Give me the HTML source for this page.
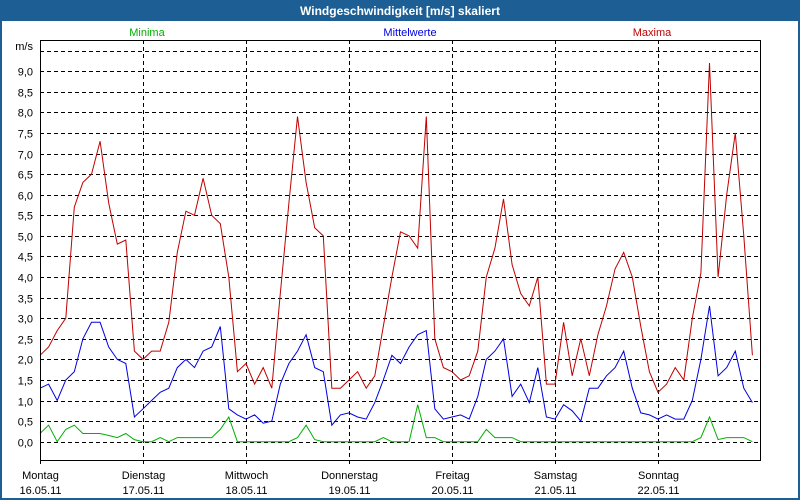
<!DOCTYPE html>
<html><head><meta charset="utf-8"><style>
body{margin:0;background:#fff;}
svg{display:block;font-family:"Liberation Sans","DejaVu Sans",sans-serif;}
</style></head><body>
<svg id="chart" width="800" height="500" xmlns="http://www.w3.org/2000/svg">
<rect x="0" y="0" width="800" height="500" fill="#1d5f94"/>
<rect x="2" y="21" width="796" height="477" fill="#fff"/>
<text x="400" y="15" text-anchor="middle" fill="#fff" font-weight="bold" font-size="12">Windgeschwindigkeit [m/s] skaliert</text>
<text x="147" y="36" text-anchor="middle" fill="#00b000" font-size="11">Minima</text>
<text x="410" y="36" text-anchor="middle" fill="#0000e0" font-size="11">Mittelwerte</text>
<text x="652" y="36" text-anchor="middle" fill="#c00000" font-size="11">Maxima</text>
<text x="33" y="50" text-anchor="end" font-size="11" fill="#000">m/s</text>
<g id="grid"></g>
<g id="series"></g>
<rect x="40.5" y="40.5" width="720" height="420" fill="none" stroke="#000" stroke-width="1"/>
<g id="labels"></g>
</svg>
<script>
const dayNames=["Montag","Dienstag","Mittwoch","Donnerstag","Freitag","Samstag","Sonntag"];
const dayDates=["16.05.11","17.05.11","18.05.11","19.05.11","20.05.11","21.05.11","22.05.11"];
const yTicks=["0,0","0,5","1,0","1,5","2,0","2,5","3,0","3,5","4,0","4,5","5,0","5,5","6,0","6,5","7,0","7,5","8,0","8,5","9,0"];
const yTickValues=[0,0.5,1,1.5,2,2.5,3,3.5,4,4.5,5,5.5,6,6.5,7,7.5,8,8.5,9,9.5];
const maxima=[2.1,2.3,2.7,3.0,5.7,6.3,6.5,7.3,5.8,4.8,4.9,2.2,
2.0,2.2,2.2,2.9,4.6,5.6,5.5,6.4,5.5,5.3,4.0,1.7,
1.9,1.4,1.8,1.3,3.6,5.8,7.9,6.3,5.2,5.0,1.3,1.3,
1.5,1.7,1.3,1.6,2.8,4.0,5.1,5.0,4.7,7.9,2.5,1.8,
1.7,1.5,1.6,2.2,4.0,4.7,5.9,4.3,3.6,3.3,4.0,1.4,
1.4,2.9,1.6,2.5,1.6,2.6,3.3,4.2,4.6,4.0,2.8,1.7,
1.2,1.4,1.8,1.5,3.0,4.1,9.2,4.0,6.0,7.5,5.0,2.1];
const mittel=[1.3,1.4,1.0,1.5,1.7,2.5,2.9,2.9,2.3,2.0,1.9,0.6,
0.8,1.0,1.2,1.3,1.8,2.0,1.8,2.2,2.3,2.8,0.8,0.65,
0.55,0.65,0.45,0.5,1.4,1.9,2.2,2.6,1.8,1.7,0.4,0.65,
0.7,0.6,0.55,0.95,1.5,2.1,1.9,2.3,2.6,2.7,0.8,0.55,
0.6,0.65,0.55,1.1,2.0,2.2,2.5,1.1,1.4,0.95,1.8,0.6,
0.55,0.9,0.75,0.5,1.3,1.3,1.6,1.8,2.2,1.3,0.7,0.65,
0.55,0.65,0.55,0.55,1.0,2.0,3.3,1.6,1.8,2.2,1.3,0.95];
const minima=[0.2,0.4,0.0,0.3,0.4,0.2,0.2,0.2,0.15,0.1,0.2,0.05,
0,0,0.1,0,0.1,0.1,0.1,0.1,0.1,0.3,0.6,0,
0,0,0,0,0,0,0.1,0.4,0.05,0,0,0,
0,0,0,0,0.1,0,0,0,0.9,0.1,0.1,0,
0,0,0,0,0.3,0.1,0.1,0.1,0,0,0,0,
0,0,0,0,0,0,0,0,0,0,0,0,
0,0,0,0,0,0.1,0.6,0.05,0.1,0.1,0.1,0];
const NS="http://www.w3.org/2000/svg";
const X0=40,DAY=103,Y0=441.7,PER=41.16;
function xScale(i){return X0+i*DAY/12;}
function yScale(v){return Y0-v*PER;}
function mk(tag,attrs,parent){const e=document.createElementNS(NS,tag);for(const k in attrs)e.setAttribute(k,attrs[k]);parent.appendChild(e);return e;}
const grid=document.getElementById('grid'),ser=document.getElementById('series'),lab=document.getElementById('labels');
yTickValues.forEach((v,k)=>{
 const y=Math.round(yScale(v))+0.5;
 const l=mk('line',{x1:40,x2:760,y1:y,y2:y,stroke:'#000','stroke-dasharray':'4,3'},grid);
 
 
 if(k<yTicks.length){
  const t=mk('text',{x:33,y:y+4,'text-anchor':'end','font-size':11,fill:'#000'},lab);
  t.textContent=yTicks[k];
  
  
 }
});
dayNames.forEach((d,i)=>{
 const x=Math.round(X0+i*DAY)+0.5;
 if(i>0){
  const l=mk('line',{x1:x,x2:x,y1:40,y2:464,stroke:'#000','stroke-dasharray':'4,3'},grid);
  
  
 } else {
  const l=mk('line',{x1:x,x2:x,y1:460,y2:464,stroke:'#000'},grid);
  
  
 }
 const t=mk('text',{x:x,y:479,'text-anchor':'middle','font-size':11,fill:'#000'},lab);
 t.textContent=d;
 
 
 const t2=mk('text',{x:x,y:494,'text-anchor':'middle','font-size':11,fill:'#000'},lab);
 t2.textContent=dayDates[i];
 
 
});
function line(arr,color,name){
 const pts=arr.map((v,i)=>xScale(i).toFixed(1)+','+yScale(v).toFixed(1)).join(' ');
 const p=mk('polyline',{points:pts,fill:'none',stroke:color,'stroke-width':1},ser);
 
 
}
line(minima,'#00b000','minima-line');
line(mittel,'#0000e0','mittelwerte-line');
line(maxima,'#c00000','maxima-line');
</script>
</body></html>
